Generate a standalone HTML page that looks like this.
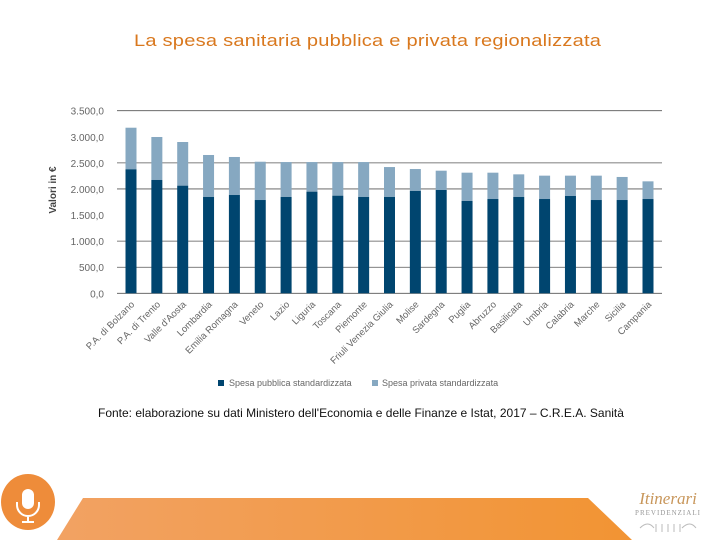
<!DOCTYPE html>
<html><head><meta charset="utf-8"><style>
body{margin:0;width:720px;height:540px;background:#fff;overflow:hidden;position:relative;font-family:"Liberation Sans",sans-serif}
#title{position:absolute;left:0;width:735px;top:31px;text-align:center;color:#d9781e;font-size:17px;letter-spacing:0.2px;transform:scaleX(1.18);transform-origin:367px 0}
#src{position:absolute;left:98px;top:406px;font-size:12px;color:#111}
</style></head><body>
<div id="title">La spesa sanitaria pubblica e privata regionalizzata</div>
<svg id="chart" width="720" height="400" style="position:absolute;left:0;top:0"></svg>
<div id="src">Fonte: elaborazione su dati Ministero dell'Economia e delle Finanze e Istat, 2017 – C.R.E.A. Sanità</div>
<svg width="720" height="70" style="position:absolute;left:0;top:470px">
<defs><linearGradient id="g" x1="0" x2="1"><stop offset="0" stop-color="#f2a263"/><stop offset="1" stop-color="#f29433"/></linearGradient></defs>
<polygon points="83,28 588,28 632,70 57,70" fill="url(#g)"/>
<ellipse cx="28" cy="32" rx="27" ry="28" fill="#ee8c3a"/>
<rect x="22" y="19" width="12" height="20" rx="6" fill="#fff"/>
<path d="M17 32 v3 a11 11 0 0 0 22 0 v-3 M28 46 v6 M22 52 h12" stroke="#fff" stroke-width="2" fill="none"/>
<text x="668" y="34" font-family="Liberation Serif,serif" font-style="italic" font-size="17" fill="#c8965a" text-anchor="middle">Itinerari</text>
<text x="668" y="45" font-family="Liberation Serif,serif" font-size="7" fill="#999" text-anchor="middle" letter-spacing="1">PREVIDENZIALI</text>
<path d="M640 58 q8 -8 14 0 M682 58 q8 -8 14 0 M656 62 v-8 M662 62 v-8 M668 62 v-8 M674 62 v-8 M680 62 v-8" stroke="#bbb" fill="none"/>
</svg>
<script>
const categories=["P.A. di Bolzano","P.A. di Trento","Valle d'Aosta","Lombardia","Emilia Romagna","Veneto","Lazio","Liguria","Toscana","Piemonte","Friuli Venezia Giulia","Molise","Sardegna","Puglia","Abruzzo","Basilicata","Umbria","Calabria","Marche","Sicilia","Campania"];
const publicValues=[2377,2172,2063,1846,1884,1788,1846,1948,1871,1846,1846,1961,1980,1770,1807,1846,1807,1865,1788,1788,1807];
const totalValues=[3174,2996,2900,2651,2613,2522,2516,2516,2516,2516,2420,2382,2350,2312,2312,2280,2255,2255,2255,2230,2146];
const tickValues=[0,500,1000,1500,2000,2500,3000,3500];
const tickLabels=["0,0","500,0","1.000,0","1.500,0","2.000,0","2.500,0","3.000,0","3.500,0"];
const gridValues=[0,500,1000,2000,2500,3500];
const svg=document.getElementById('chart');const NS='http://www.w3.org/2000/svg';
const y=v=>293.3-v*(182.6/3500);
const x=i=>131+i*25.85;
function mk(t,a){const e=document.createElementNS(NS,t);for(const k in a)e.setAttribute(k,a[k]);svg.appendChild(e);return e;}
gridValues.forEach(v=>{const l=mk('line',{x1:117,x2:662,y1:y(v),y2:y(v),stroke:'#555','stroke-width':0.8});

});
tickValues.forEach((v,i)=>{const t=mk('text',{x:104,y:y(v)+4,'text-anchor':'end','font-size':10,fill:'#666'});t.textContent=tickLabels[i];

});
const yt=mk('text',{x:0,y:0,transform:'translate(56,190) rotate(-90)','text-anchor':'middle','font-size':10,'font-weight':'bold',fill:'#444'});yt.textContent='Valori in €';


categories.forEach((c,i)=>{
const cx=x(i);
const r2=mk('rect',{x:cx-5.5,y:y(totalValues[i]),width:11,height:y(publicValues[i])-y(totalValues[i]),fill:'#86a8c1'});


const r1=mk('rect',{x:cx-5.5,y:y(publicValues[i]),width:11,height:y(0)-y(publicValues[i]),fill:'#00456f'});


const t=mk('text',{x:0,y:0,transform:`translate(${cx+4},${305}) rotate(-45)`,'text-anchor':'end','font-size':9.5,fill:'#666'});t.textContent=c;


});
const l1=mk('rect',{x:218,y:380,width:6,height:6,fill:'#00456f'});


const lt1=mk('text',{x:229,y:386,'font-size':9,fill:'#666'});lt1.textContent='Spesa pubblica standardizzata';


const l2=mk('rect',{x:372,y:380,width:6,height:6,fill:'#86a8c1'});


const lt2=mk('text',{x:382,y:386,'font-size':9,fill:'#666'});lt2.textContent='Spesa privata standardizzata';


</script>
</body></html>
